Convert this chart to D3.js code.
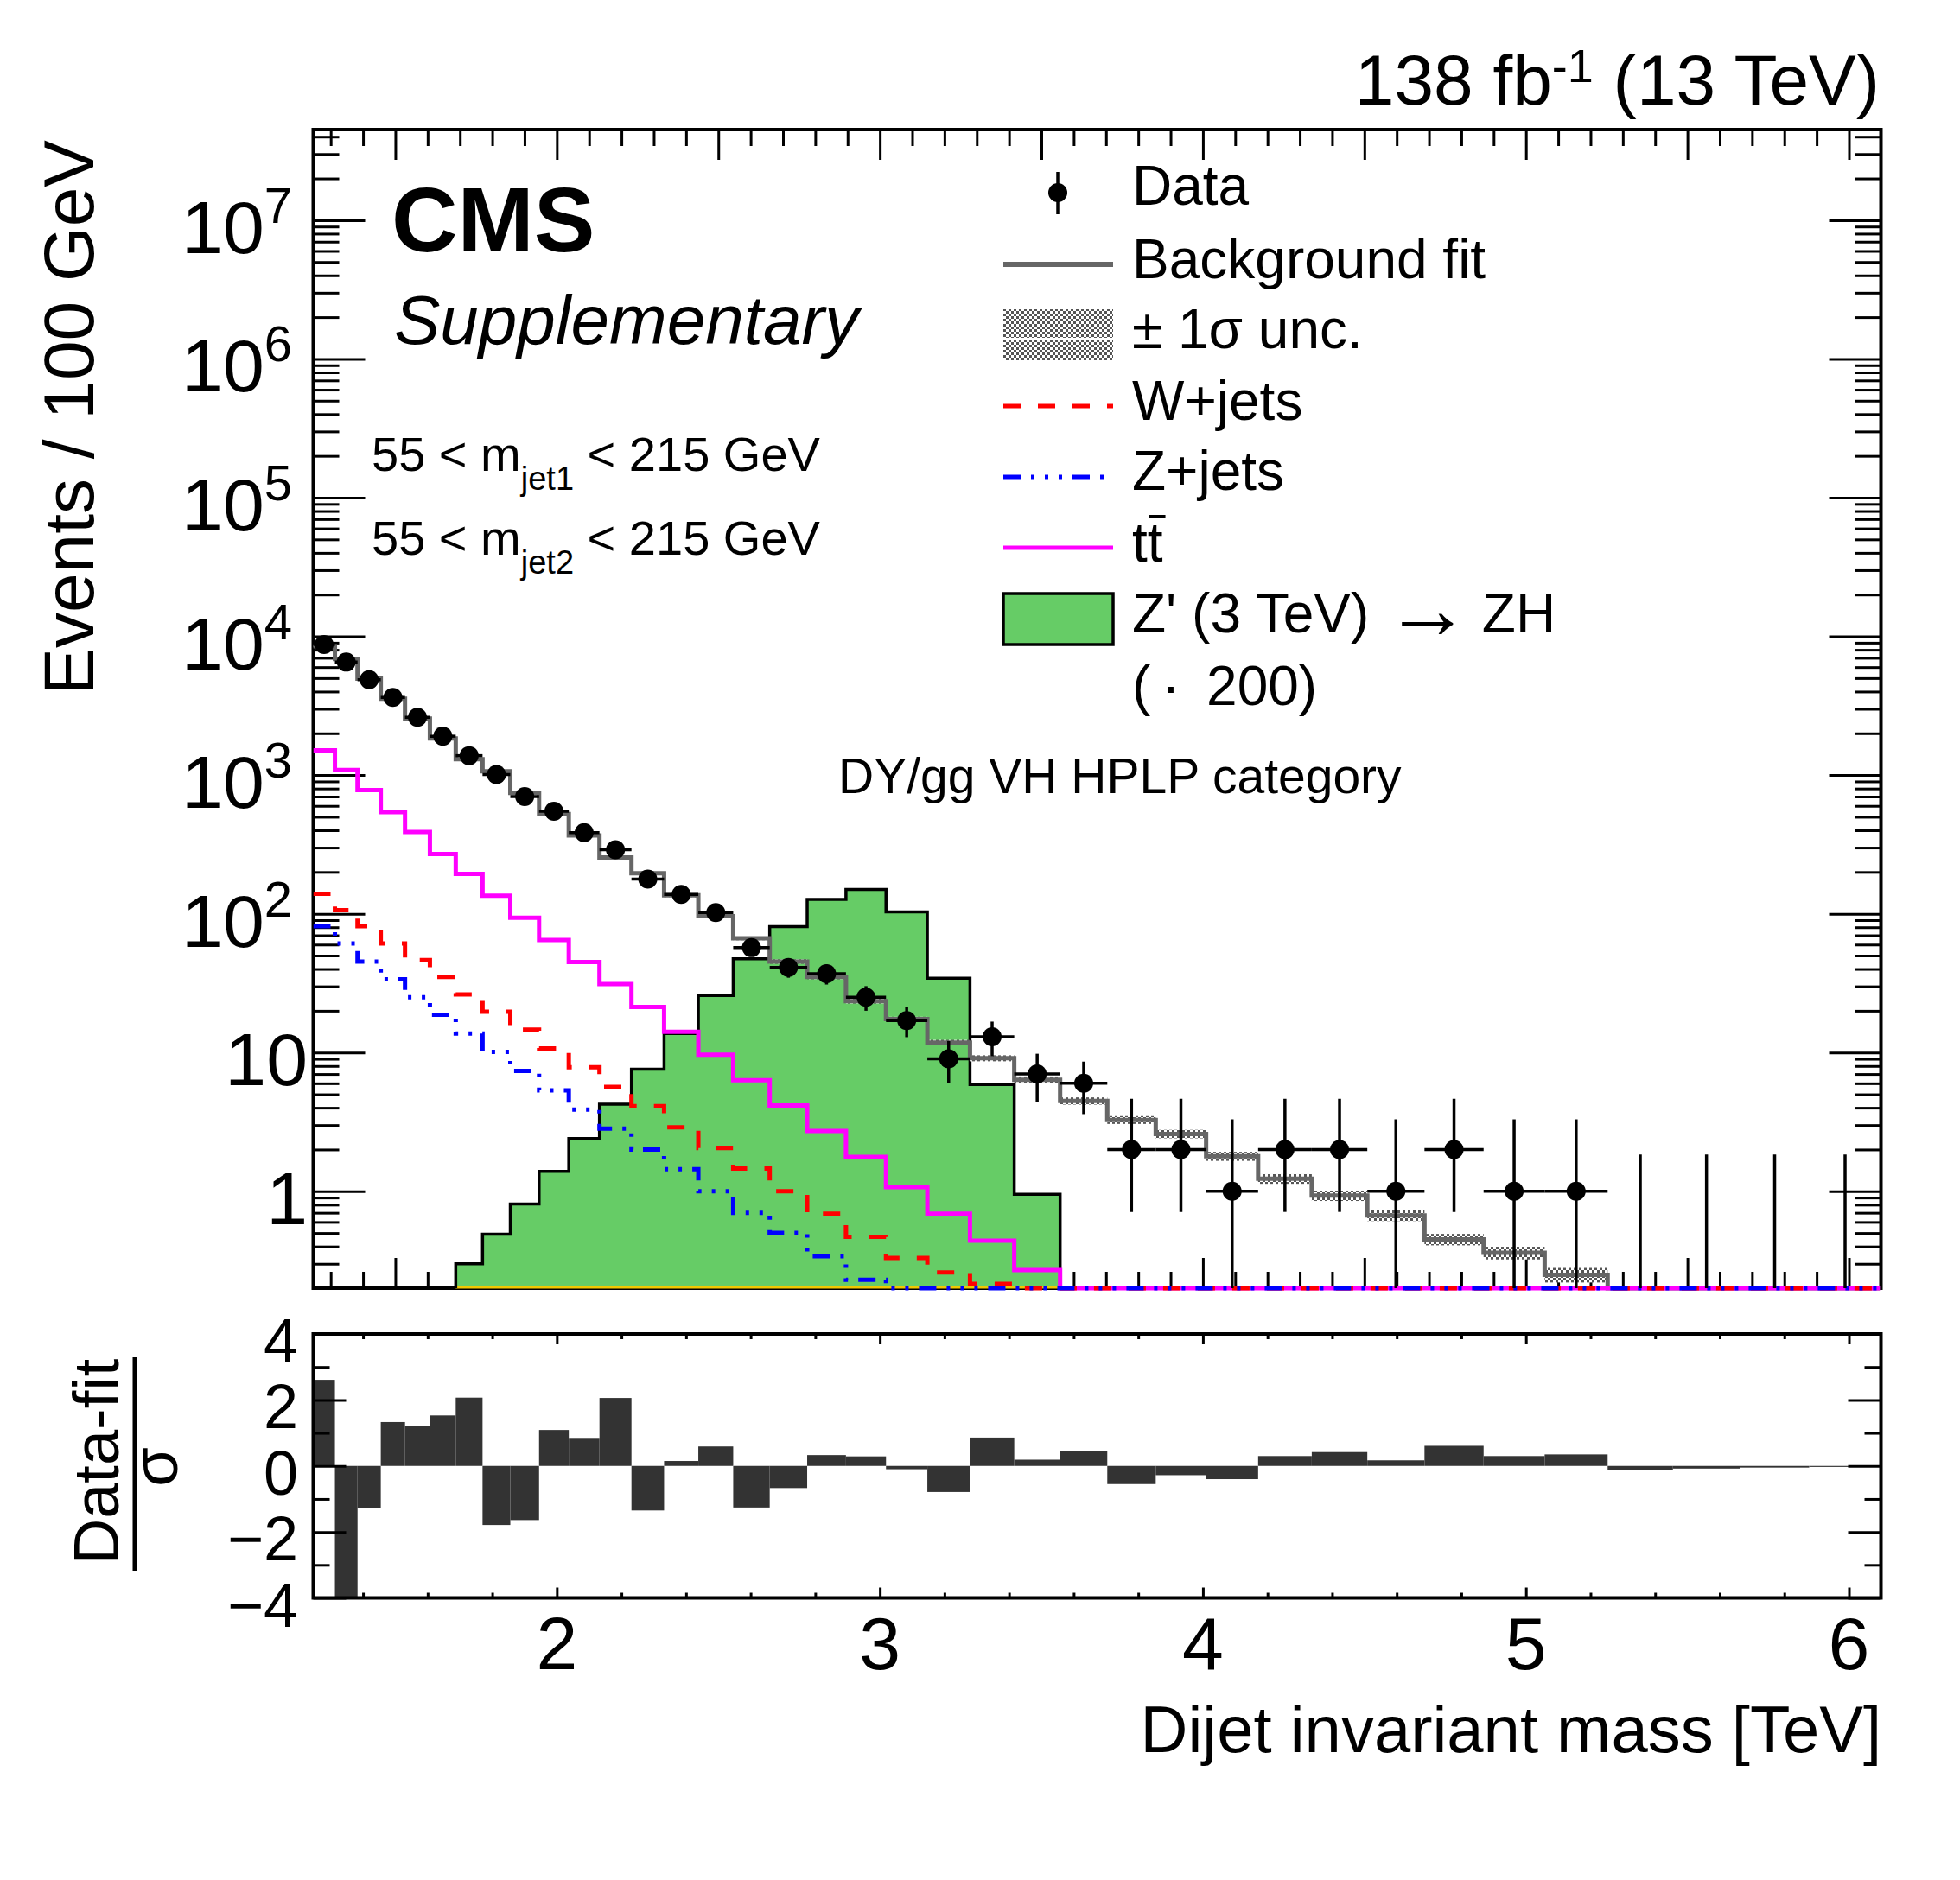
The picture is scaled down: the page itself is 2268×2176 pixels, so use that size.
<!DOCTYPE html>
<html><head><meta charset="utf-8">
<script src="https://cdn.jsdelivr.net/npm/d3@7"></script>
<style>
body{margin:0;background:#fff;}
text{font-family:"Liberation Sans",Arial,Helvetica,sans-serif;fill:#000;}
</style>
</head><body>
<svg id="c" width="2268" height="2176" xmlns="http://www.w3.org/2000/svg"></svg>
<script>
// ---------------- DATA ----------------
const binEdges = [1.246,1.313,1.383,1.455,1.530,1.607,1.687,1.770,1.856,1.945,2.037,2.132,2.231,2.332,2.438,2.546,2.659,2.775,2.895,3.019,3.147,3.279,3.416,3.558,3.704,3.854,4.010,4.171,4.337,4.509,4.686,4.869,5.058,5.253,5.455,5.663,5.877,6.099];
const dataCounts = [8740,6520,4865,3630,2612,1906,1380,1009,700,549,384,290,178,138,102,57,41,37,25,17,9,13,7,6,2,2,1,2,2,1,2,1,1,0,0,0,0];
const dataErrLow = [8647,6439,4795,3570,2561,1862,1343,977,674,526,364,273,165,126,92,49.5,34.6,30.9,20.0,12.9,6.0,9.4,4.4,3.6,0.71,0.71,0.17,0.71,0.71,0.17,0.71,0.17,0.17,0,0,0,0];
const dataErrHigh = [8834,6601,4935,3690,2663,1950,1417,1041,727,572,404,307,191,150,112,64.6,47.4,43.1,30.1,21.2,12.1,16.7,9.8,8.6,4.64,4.64,3.30,4.64,4.64,3.30,4.64,3.30,3.30,1.84,1.84,1.84,1.84];
const bkgFit = [8500,6870,4954,3550,2551,1839,1303,1066,743,523,367,255,196,136,96,66.5,45.3,35,23.5,17.4,11.8,9.1,6.37,4.48,3.27,2.59,1.79,1.23,0.93,0.67,0.45,0.36,0.25,0.17,0.12,0.08,0.055];
const bkgFitRelUnc = [0.02,0.02,0.02,0.02,0.02,0.02,0.02,0.02,0.02,0.02,0.02,0.025,0.025,0.03,0.03,0.03,0.035,0.035,0.04,0.04,0.045,0.05,0.055,0.06,0.065,0.07,0.075,0.08,0.085,0.09,0.095,0.105,0.12,0.13,0.14,0.15,0.16];
const wJets = [139.6,106,81.5,61.2,46.4,35.0,26.2,19.7,14.6,10.7,7.83,5.66,4.11,2.89,2.05,1.46,1.0,0.69,0.47,0.33,0.26,0.215,0,0,0,0,0,0,0,0,0,0,0,0,0,0,0];
const zJets = [81.5,61.2,45.3,33.7,25.0,18.7,13.7,10.1,7.37,5.34,3.88,2.83,2.0,1.44,1.0,0.70,0.50,0.34,0.23,0,0,0,0,0,0,0,0,0,0,0,0,0,0,0,0,0,0];
const ttbar = [1507,1086,780,541,389,270,194,135,93.5,64.7,44.9,31.1,21.3,14.1,9.66,6.32,4.16,2.72,1.77,1.07,0.69,0.44,0.27,0,0,0,0,0,0,0,0,0,0,0,0,0,0];
const signalZp = [0,0,0,0,0,0,0.30,0.49,0.81,1.39,2.40,4.25,7.59,13.7,25.8,47.3,80.7,127,150,103,34.3,5.87,0.95,0,0,0,0,0,0,0,0,0,0,0,0,0,0];
const pulls = [2.61,-4.5,-1.28,1.33,1.20,1.53,2.07,-1.79,-1.64,1.09,0.85,2.06,-1.35,0.15,0.59,-1.26,-0.67,0.33,0.29,-0.10,-0.79,0.86,0.19,0.44,-0.55,-0.28,-0.40,0.30,0.42,0.17,0.61,0.30,0.35,-0.12,-0.08,-0.05,-0.03];
const xTickValues = [2,3,4,5,6];
const xTickLabels = ["2","3","4","5","6"];
const yDecades = [0,1,2,3,4,5,6,7];
const ratioTickValues = [4,2,0,-2,-4];
const ratioTickLabels = ["4","2","0","\u22122","\u22124"];
const legendLabels = ["Data","Background fit","\u00B1 1\u03C3 unc.","W+jets","Z+jets","tt","Z' (3 TeV)","(\u2009\u00B7\u00A0\u2009200)"];

// ---------------- LAYOUT ----------------
const L=362.5, R=2176.5, T=150, B=1491, RT=1544, RB=1849.5;
const yMin = 0.2, yMax = 4.5e7;
const svg = d3.select("#c");
const x = d3.scaleLinear().domain([binEdges[0], binEdges[binEdges.length-1]]).range([L,R]);
const y = d3.scaleLog().domain([yMin, yMax]).range([B,T]);
const yr = d3.scaleLinear().domain([-4,4]).range([RB,RT]);

const defs = svg.append("defs");
const pat = defs.append("pattern").attr("id","chk").attr("patternUnits","userSpaceOnUse").attr("width",6).attr("height",6);
pat.append("rect").attr("width",6).attr("height",6).attr("fill","#fff");
pat.append("rect").attr("width",3).attr("height",3).attr("fill","#555");
pat.append("rect").attr("x",3).attr("y",3).attr("width",3).attr("height",3).attr("fill","#555");
defs.append("clipPath").attr("id","mainClip").append("rect").attr("x",L).attr("y",T).attr("width",R-L).attr("height",B-T+4);
defs.append("clipPath").attr("id","fillClip").append("rect").attr("x",L).attr("y",T).attr("width",R-L).attr("height",B-T);
defs.append("clipPath").attr("id","ratioClip").append("rect").attr("x",L).attr("y",RT).attr("width",R-L).attr("height",RB-RT);

// ---------------- TICKS ----------------
function tickAxis(axis, tr, size, sw){
  const g = svg.append("g").attr("transform", tr);
  g.call(axis.tickSize(-size).tickFormat(""));
  g.select(".domain").remove();
  g.selectAll("line").attr("stroke","#000").attr("stroke-width",sw);
  return g;
}
const xMainMajor = d3.range(15,61,5).map(v=>v/10);
const xMainMinor = d3.range(13,61).filter(v=>v%5!==0).map(v=>v/10);
const yMajor = [], yMinorT = [];
for(let k=-1;k<=7;k++){ for(let j=1;j<=9;j++){ const v=j*Math.pow(10,k); if(v>=yMin && v<=yMax){ (j===1?yMajor:yMinorT).push(v);} } }
const xRatioMajor = [2,3,4,5,6];
const xRatioMinor = d3.range(14,61,2).filter(v=>v%10!==0).map(v=>v/10);
const yRatioMajor = [-4,-2,0,2,4], yRatioMinor = [-3,-1,1,3];

tickAxis(d3.axisBottom(x).tickValues(xMainMajor), `translate(0,${B})`, 35, 3);
tickAxis(d3.axisBottom(x).tickValues(xMainMinor), `translate(0,${B})`, 19, 3);
tickAxis(d3.axisTop(x).tickValues(xMainMajor), `translate(0,${T})`, 35, 3);
tickAxis(d3.axisTop(x).tickValues(xMainMinor), `translate(0,${T})`, 19, 3);
tickAxis(d3.axisLeft(y).tickValues(yMajor), `translate(${L},0)`, 60, 3);
tickAxis(d3.axisLeft(y).tickValues(yMinorT), `translate(${L},0)`, 30, 3);
tickAxis(d3.axisRight(y).tickValues(yMajor), `translate(${R},0)`, 60, 3);
tickAxis(d3.axisRight(y).tickValues(yMinorT), `translate(${R},0)`, 30, 3);

svg.append("rect").attr("x",L).attr("y",T).attr("width",R-L).attr("height",B-T)
  .attr("fill","none").attr("stroke","#000").attr("stroke-width",4);

// ---------------- MAIN HISTOGRAMS ----------------
const cl = v => Math.max(v, yMin);
function stepPath(vals){
  const pts = binEdges.map((e,i)=>[x(e), y(cl(vals[Math.min(i, vals.length-1)]))]);
  return d3.line().curve(d3.curveStepAfter)(pts);
}
const sigIdx = signalZp.map((v,i)=>v>0?i:-1).filter(i=>i>=0);
const s0 = sigIdx[0], s1 = sigIdx[sigIdx.length-1];
const sigPts = d3.range(s0, s1+2).map(i=>({e:binEdges[i], v:signalZp[Math.min(i,s1)]}));
svg.append("path").attr("clip-path","url(#fillClip)")
  .attr("d", d3.area().curve(d3.curveStepAfter).x(d=>x(d.e)).y0(B).y1(d=>y(cl(d.v)))(sigPts))
  .attr("fill","#66cc66");
svg.append("line").attr("x1",x(binEdges[s0])).attr("x2",x(binEdges[s1+1])).attr("y1",B-1).attr("y2",B-1)
  .attr("stroke","#f0c800").attr("stroke-width",3);
const outline = [[x(binEdges[s0]), B]];
for(let i=s0;i<=s1;i++){ outline.push([x(binEdges[i]), y(cl(signalZp[i]))]); outline.push([x(binEdges[i+1]), y(cl(signalZp[i]))]); }
outline.push([x(binEdges[s1+1]), B]);
svg.append("path").attr("d", d3.line()(outline)).attr("fill","none").attr("stroke","#000").attr("stroke-width",3.5);

const gm = svg.append("g").attr("clip-path","url(#mainClip)");
gm.selectAll("rect.band").data(bkgFit).join("rect").attr("class","band")
  .attr("x",(d,i)=>x(binEdges[i])).attr("width",(d,i)=>x(binEdges[i+1])-x(binEdges[i]))
  .attr("y",(d,i)=>y(cl(d*(1+bkgFitRelUnc[i])))).attr("height",(d,i)=>y(cl(d*(1-bkgFitRelUnc[i])))-y(cl(d*(1+bkgFitRelUnc[i]))))
  .attr("fill","url(#chk)");
gm.append("path").attr("d",stepPath(bkgFit)).attr("fill","none").attr("stroke","#666").attr("stroke-width",5);
gm.append("path").attr("d",stepPath(ttbar)).attr("fill","none").attr("stroke","#ff00ff").attr("stroke-width",5);
gm.append("path").attr("d",stepPath(wJets)).attr("fill","none").attr("stroke","#ff0000").attr("stroke-width",5).attr("stroke-dasharray","20 20");
gm.append("path").attr("d",stepPath(zJets)).attr("fill","none").attr("stroke","#0000ff").attr("stroke-width",5).attr("stroke-dasharray","20 12 4 12 4 12 4 12");

const gd = svg.append("g").attr("clip-path","url(#mainClip)");
dataCounts.forEach((n,i)=>{
  const xc = x((binEdges[i]+binEdges[i+1])/2);
  const ylo = n>0 ? y(cl(dataErrLow[i])) : B;
  gd.append("line").attr("x1",xc).attr("x2",xc).attr("y1",ylo).attr("y2",y(dataErrHigh[i])).attr("stroke","#000").attr("stroke-width",3.5);
  if(n>0){
    gd.append("line").attr("x1",x(binEdges[i])).attr("x2",x(binEdges[i+1])).attr("y1",y(n)).attr("y2",y(n)).attr("stroke","#000").attr("stroke-width",3.5);
    gd.append("circle").attr("cx",xc).attr("cy",y(n)).attr("r",11).attr("fill","#000");
  }
});

// ---------------- RATIO PANEL ----------------
const gr = svg.append("g").attr("clip-path","url(#ratioClip)");
gr.selectAll("rect").data(pulls).join("rect")
  .attr("x",(d,i)=>x(binEdges[i])).attr("width",(d,i)=>x(binEdges[i+1])-x(binEdges[i]))
  .attr("y",d=>Math.min(yr(0),yr(d))).attr("height",d=>Math.abs(yr(d)-yr(0)))
  .attr("fill","#333333");
tickAxis(d3.axisBottom(x).tickValues(xRatioMajor), `translate(0,${RB})`, 12, 3);
tickAxis(d3.axisBottom(x).tickValues(xRatioMinor), `translate(0,${RB})`, 6, 3);
tickAxis(d3.axisTop(x).tickValues(xRatioMajor), `translate(0,${RT})`, 12, 3);
tickAxis(d3.axisTop(x).tickValues(xRatioMinor), `translate(0,${RT})`, 6, 3);
tickAxis(d3.axisLeft(yr).tickValues(yRatioMajor), `translate(${L},0)`, 38, 3);
tickAxis(d3.axisLeft(yr).tickValues(yRatioMinor), `translate(${L},0)`, 19, 3);
tickAxis(d3.axisRight(yr).tickValues(yRatioMajor), `translate(${R},0)`, 38, 3);
tickAxis(d3.axisRight(yr).tickValues(yRatioMinor), `translate(${R},0)`, 19, 3);
svg.append("rect").attr("x",L).attr("y",RT).attr("width",R-L).attr("height",RB-RT)
  .attr("fill","none").attr("stroke","#000").attr("stroke-width",4);

// ---------------- LABELS ----------------
function txt(xp, yp, s, size, anchor){ return svg.append("text").attr("x",xp).attr("y",yp).attr("font-size",size).attr("text-anchor",anchor||"start").text(s); }
xTickValues.forEach((v,i)=>txt(x(v), 1932, xTickLabels[i], 86, "middle"));
ratioTickValues.forEach((v,i)=>txt(345, yr(v)+33, ratioTickLabels[i], 72, "end"));
yDecades.forEach(k=>{
  const yy = y(Math.pow(10,k));
  if(k===0) txt(356, yy+38, "1", 86, "end");
  else if(k===1) txt(356, yy+38, "10", 86, "end");
  else {
    const t = svg.append("text").attr("x",338).attr("y",yy+38).attr("font-size",86).attr("text-anchor","end");
    t.append("tspan").text("10");
    t.append("tspan").attr("font-size",58).attr("dy",-35).text(String(k));
  }
});
txt(2177, 2028, "Dijet invariant mass [TeV]", 76, "end");
svg.append("text").attr("transform","translate(108,162) rotate(-90)").attr("font-size",82).attr("text-anchor","end").text("Events / 100 GeV");
svg.append("text").attr("transform","translate(137,1692) rotate(-90)").attr("font-size",74).attr("text-anchor","middle").text("Data-fit");
svg.append("line").attr("x1",156).attr("x2",156).attr("y1",1571).attr("y2",1818).attr("stroke","#000").attr("stroke-width",5);
svg.append("text").attr("transform","translate(205,1698) rotate(-90)").attr("font-size",74).attr("text-anchor","middle").text("\u03C3");

const hd = svg.append("text").attr("x",2175).attr("y",121).attr("font-size",82).attr("text-anchor","end");
hd.append("tspan").text("138 fb");
hd.append("tspan").attr("font-size",54).attr("dy",-26).text("-1");
hd.append("tspan").attr("dy",26).text(" (13 TeV)");
txt(453, 291, "CMS", 106).attr("font-weight","bold");
txt(456, 398, "Supplementary", 80).attr("font-style","italic");
[["1",545],["2",642]].forEach(([j,yy])=>{
  const t = svg.append("text").attr("x",430).attr("y",yy).attr("font-size",56);
  t.append("tspan").text("55 < m");
  t.append("tspan").attr("font-size",38).attr("dy",22).text("jet"+j);
  t.append("tspan").attr("dy",-22).text(" < 215 GeV");
});
txt(970, 918, "DY/gg VH HPLP category", 57);

// ---------------- LEGEND ----------------
const lx0=1161, lx1=1288, ltx=1310;
const rowBase = [237,322,403,486,567,650,732,816];
legendLabels.forEach((s,i)=>{
  const t = txt(ltx, rowBase[i], s, 64);
  if(i===5){
    const w1 = t.node().getSubStringLength(0,1);
    svg.append("line").attr("x1",ltx+w1+2).attr("x2",ltx+2*w1+3).attr("y1",rowBase[i]-52).attr("y2",rowBase[i]-52).attr("stroke","#000").attr("stroke-width",4);
  }
  if(i===6){
    t.append("tspan").text("\u00A0");
    t.append("tspan").attr("font-size",100).attr("dy",7).text("\u2192");
    t.append("tspan").attr("dy",-7).text("\u2009ZH");
  }
});
svg.append("line").attr("x1",1224).attr("x2",1224).attr("y1",199).attr("y2",248).attr("stroke","#000").attr("stroke-width",3.5);
svg.append("circle").attr("cx",1224).attr("cy",223).attr("r",11).attr("fill","#000");
svg.append("line").attr("x1",lx0).attr("x2",lx1).attr("y1",306).attr("y2",306).attr("stroke","#666").attr("stroke-width",6);
svg.append("rect").attr("x",lx0).attr("y",358).attr("width",lx1-lx0).attr("height",59).attr("fill","url(#chk)");
svg.append("line").attr("x1",lx0).attr("x2",lx1).attr("y1",392).attr("y2",392).attr("stroke","#fff").attr("stroke-width",2);
svg.append("line").attr("x1",lx0).attr("x2",lx1).attr("y1",470).attr("y2",470).attr("stroke","#ff0000").attr("stroke-width",5).attr("stroke-dasharray","20 20");
svg.append("line").attr("x1",lx0).attr("x2",lx1).attr("y1",552).attr("y2",552).attr("stroke","#0000ff").attr("stroke-width",5).attr("stroke-dasharray","20 12 4 12 4 12 4 12");
svg.append("line").attr("x1",lx0).attr("x2",lx1).attr("y1",634).attr("y2",634).attr("stroke","#ff00ff").attr("stroke-width",5);
svg.append("rect").attr("x",lx0).attr("y",687).attr("width",lx1-lx0).attr("height",59).attr("fill","#66cc66").attr("stroke","#000").attr("stroke-width",3.5);
</script>
</body></html>
